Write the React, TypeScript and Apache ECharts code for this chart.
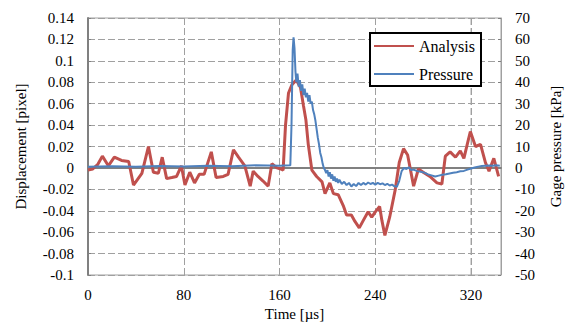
import React, { useEffect, useRef } from "react";
import * as echarts from "echarts";

const xTicks = [0, 80, 160, 240, 320];
const yMin = -0.1;
const yMax = 0.14;

const analysisTime = [
  0, 4, 8, 12, 17, 22, 28, 34, 38, 45, 50.5, 54.6, 58.8, 62, 65.7, 70, 74, 78, 81, 85, 89, 93, 97, 103, 107, 113, 117,
  121.5, 125.7, 131, 135.5, 138, 142, 146, 150.5, 153.6, 157.8, 161, 163, 165, 167.5, 170.5, 174, 177.5, 180, 182,
  184, 187, 191, 195.5, 198, 202, 205, 209, 213.5, 216, 220, 223, 226.6, 230, 234, 237, 240, 243.6, 245.5, 248, 252,
  256.7, 260, 263.6, 267, 272, 276, 280, 285.6, 291.5, 295.6, 298.5, 302.5, 307, 311, 314, 317, 319.4, 323.7, 327.9,
  332, 335, 339, 343,
];
const analysisValue = [
  -0.002, -0.001, 0.003, 0.011, 0.002, 0.01, 0.007, 0.006, -0.016, -0.005, 0.02, -0.004, -0.005, 0.01, -0.01, -0.009,
  -0.008, 0.002, -0.016, -0.004, -0.014, -0.006, -0.006, 0.015, -0.009, -0.008, -0.006, 0.017, 0.01, 0.002, -0.017,
  -0.003, -0.008, -0.012, -0.017, 0.004, 0, -0.001, -0.002, 0.04, 0.07, 0.078, 0.082, 0.075, 0.058, 0.045, 0.022,
  -0.002, -0.008, -0.013, -0.024, -0.014, -0.024, -0.025, -0.036, -0.044, -0.044, -0.05, -0.056, -0.049, -0.041,
  -0.046, -0.041, -0.036, -0.049, -0.063, -0.046, -0.02, 0.005, 0.018, 0.012, -0.017, -0.001, -0.004, -0.008, -0.014,
  -0.015, 0.011, 0.015, 0.01, 0.016, 0.009, 0.023, 0.034, 0.02, 0.022, 0.005, -0.003, 0.009, -0.008,
];

const pressureTime = [
  0, 20, 40, 60, 80, 100, 120, 140, 160, 169, 170, 171, 171.7, 172.5, 173.3, 174, 175, 176, 177, 178, 179, 180, 181,
  182, 183, 184, 185, 186, 187, 188, 189, 190, 191, 192, 193, 194, 195, 196, 197, 198, 199, 200, 201, 202, 203, 204,
  205, 206, 207, 208, 209, 210, 212, 214, 216, 218, 220, 222, 224, 226, 228, 230, 232, 234, 236, 238, 240, 242, 244,
  246, 248, 250, 252, 254, 256, 258, 260, 262, 264, 266, 268, 270, 272, 275, 278, 281, 284, 287, 290, 293, 296, 299,
  302, 305, 308, 311, 314, 317, 320, 323, 326, 329, 332, 335, 338, 341, 344,
];
const pressureValue = [
  0.5, 0.8, 0.6, 0.9, 0.7, 1.0, 0.8, 1.2, 1.0, 1.2, 20, 55, 61, 56, 45, 40, 44, 38, 41, 36, 39, 34, 37, 33, 35, 31, 34,
  30, 31, 27, 25, 22, 18, 14, 11, 7, 5, 2, 0, -1, -2.5, -1, -4, -2, -5, -3, -6, -4, -6.5, -5, -7, -5.5, -7.5, -6.5, -8,
  -7, -8.7, -7.5, -8.5, -7, -8, -7, -7.8, -6.8, -7.5, -7, -7.8, -7, -7.6, -7.2, -8, -7.4, -8.2, -7.8, -8.6, -8.8, -6,
  -1.5, 0, -0.5, 0.3, -1, -0.8, -1.5, -1.8, -2.2, -3, -3.5, -4, -3.6, -3.2, -3, -2.6, -2.3, -2, -1.6, -1.4, -0.8, -0.3,
  0.2, 0.6, 0.9, 1, 1.1, 1, 1.2, 1,
];

const FONT = "Liberation Serif, Times New Roman, serif";

export default function App() {
  const ref = useRef<HTMLDivElement>(null);
  useEffect(() => {
    if (!ref.current) return;
    const chart = echarts.init(ref.current, null, { renderer: "svg" });
    const analysis = analysisTime.map((t, i) => [t, analysisValue[i]]);
    const pressure = pressureTime.map((t, i) => [t, pressureValue[i]]);
    const gridLineStyle = { color: "#a0a0a0", type: [7, 3] as any, width: 1 };
    const split = { show: true, lineStyle: gridLineStyle };
    const lastTick = xTicks[xTicks.length - 1];
    chart.setOption({
      animation: false,
      textStyle: { fontFamily: FONT },
      grid: { left: 88, right: 75, top: 18, bottom: 58, show: true, borderColor: "#a0a0a0", borderWidth: 1 },
      legend: {
        orient: "vertical",
        left: 370,
        top: 33,
        padding: [5, 6, 4, 3],
        itemWidth: 40,
        itemHeight: 14,
        itemGap: 12,
        borderColor: "#000",
        borderWidth: 2,
        backgroundColor: "#fff",
        itemStyle: { opacity: 0 },
        textStyle: { fontFamily: FONT, fontSize: 16, color: "#000" },
        data: ["Analysis", "Pressure"],
      },
      xAxis: {
        type: "value",
        min: 0,
        max: 345,
        name: "Time [µs]",
        nameLocation: "middle",
        nameGap: 31,
        nameTextStyle: { fontFamily: FONT, fontSize: 15, color: "#000" },
        axisLine: { show: true, lineStyle: { color: "#808080", width: 2 } },
        axisTick: { show: false, customValues: xTicks },
        axisLabel: {
          margin: 12,
          fontFamily: FONT,
          fontSize: 15,
          color: "#000",
          customValues: xTicks,
        },
        splitLine: split,
      },
      yAxis: [
        {
          type: "value",
          min: yMin,
          max: yMax,
          interval: 0.02,
          name: "Displacement [pixel]",
          nameLocation: "middle",
          nameGap: 60,
          nameTextStyle: { fontFamily: FONT, fontSize: 15, color: "#000" },
          axisLine: { show: true, lineStyle: { color: "#808080", width: 2 } },
          axisTick: { show: true, inside: true, length: 3, lineStyle: { color: "#808080" } },
          axisLabel: {
            margin: 14,
            fontFamily: FONT,
            fontSize: 15,
            color: "#000",
            formatter: (v: number) => String(parseFloat(v.toFixed(2))),
          },
          splitLine: split,
        },
        {
          type: "value",
          min: -50,
          max: 70,
          interval: 10,
          name: "Gage pressure [kPa]",
          nameLocation: "middle",
          nameGap: 47,
          nameRotate: 90,
          nameTextStyle: { fontFamily: FONT, fontSize: 15, color: "#000" },
          axisLine: { show: true, lineStyle: { color: "#a0a0a0", width: 1 } },
          axisTick: { show: true, inside: true, length: 3, lineStyle: { color: "#808080" } },
          axisLabel: { margin: 14, fontFamily: FONT, fontSize: 15, color: "#000" },
          splitLine: { show: false },
        },
      ],
      series: [
        {
          name: "gridline",
          type: "line",
          yAxisIndex: 0,
          data: [
            [lastTick, yMin],
            [lastTick, yMax],
          ],
          symbol: "none",
          silent: true,
          lineStyle: gridLineStyle,
          itemStyle: { color: "#a0a0a0" },
          z: 1,
        },
        {
          name: "Analysis",
          type: "line",
          yAxisIndex: 0,
          data: analysis,
          symbol: "none",
          lineStyle: { color: "#C0504D", width: 3 },
          itemStyle: { color: "#C0504D" },
          z: 2,
        },
        {
          name: "Pressure",
          type: "line",
          yAxisIndex: 1,
          data: pressure,
          symbol: "none",
          lineStyle: { color: "#4F81BD", width: 2 },
          itemStyle: { color: "#4F81BD" },
          z: 3,
        },
      ],
    });
    return () => chart.dispose();
  }, []);
  return <div ref={ref} style={{ width: 576, height: 333, position: "absolute", left: 0, top: 0 }} />;
}
